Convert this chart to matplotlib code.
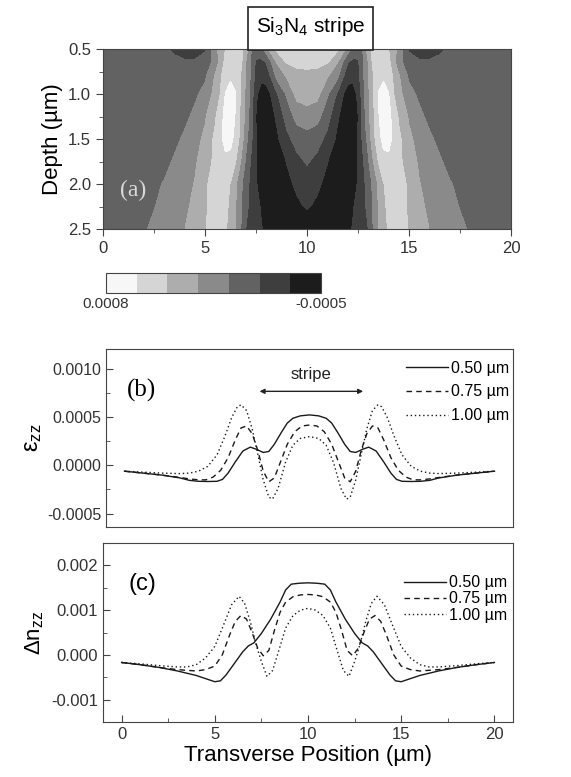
import numpy as np
import matplotlib
matplotlib.use("Agg")
import matplotlib.pyplot as plt
from matplotlib.patches import Rectangle
from matplotlib.ticker import MultipleLocator

plt.rcParams["font.family"] = ["Liberation Sans", "DejaVu Sans"]
plt.rcParams["mathtext.fontset"] = "custom"
plt.rcParams["mathtext.rm"] = "Liberation Sans"
plt.rcParams["mathtext.it"] = "Liberation Sans:italic"

# -------------------------------
# Data: (a) strain map, left half (x = 0..10 um), symmetric about x = 10
# values in units of 1e-4
# -------------------------------
map_x = [0, 1, 2, 3, 3.5, 4, 4.5, 5, 5.5, 5.75, 6, 6.25, 6.5, 6.75,
         7, 7.25, 7.5, 7.75, 8, 8.25, 8.5, 9, 9.5, 10]
map_depth = [0.5, 0.65, 0.8, 1.0, 1.25, 1.5, 1.75, 2.0, 2.25, 2.5]
map_d05 = [-0.6, -0.7, -0.8, -1.1, -1.5, -1.9, -1.9, -1.5, 1.5, 3.4, 4.3, 5.3,
           5.5, 5.0, 3.4, 0.8, -0.3, 0.0, 1.5, 3.4, 4.6, 5.0, 5.2, 5.3]
map_d065 = [-0.6, -0.7, -0.8, -0.9, -1.0, -1.1, -1.1, -0.6, 1.3, 3.0, 4.8, 5.4,
            5.6, 4.8, 2.4, 0.2, -1.6, -1.8, -1.3, 0.5, 2.4, 4.4, 4.9, 5.0]
map_d08 = [-0.6, -0.7, -0.8, -0.9, -0.9, -0.8, -0.6, 0.2, 2.6, 4.0, 5.2, 5.8,
           5.6, 4.2, 2.4, 0.3, -2.0, -2.6, -2.4, -1.0, 1.0, 2.6, 3.4, 3.6]
map_d10 = [-0.6, -0.6, -0.7, -0.7, -0.6, -0.3, 0.2, 1.2, 3.0, 4.3, 6.2, 7.0,
           6.2, 4.0, 2.0, -0.2, -2.8, -4.0, -4.0, -3.0, -1.6, 0.8, 3.0, 3.2]
map_d125 = [-0.5, -0.6, -0.6, -0.6, -0.4, 0.1, 1.0, 2.2, 4.0, 5.6, 6.6, 7.0,
            6.0, 4.0, 1.8, -0.2, -3.2, -4.2, -4.3, -3.8, -2.9, -0.6, 1.2, 1.7]
map_d15 = [-0.5, -0.5, -0.5, -0.3, 0.1, 0.9, 1.8, 2.8, 4.7, 5.8, 6.6, 6.6,
           5.6, 3.6, 1.2, -0.8, -3.0, -4.2, -4.4, -4.2, -3.6, -1.8, -0.6, -0.2]
map_d175 = [-0.5, -0.5, -0.4, 0.0, 0.8, 1.6, 2.2, 3.2, 4.8, 5.4, 5.8, 5.6,
            4.3, 2.4, 0.3, -1.5, -3.0, -4.0, -4.3, -4.3, -4.0, -3.1, -1.8, -1.1]
map_d20 = [-0.5, -0.4, -0.3, 0.7, 1.3, 1.9, 2.5, 4.0, 5.0, 5.1, 4.9, 4.2,
           2.7, 1.0, -0.5, -1.8, -3.0, -3.8, -4.2, -4.3, -4.1, -3.5, -2.9, -2.2]
map_d225 = [-0.5, -0.3, 0.0, 1.0, 1.5, 2.1, 2.8, 4.1, 4.9, 5.0, 4.7, 3.9,
            2.5, 0.9, -0.9, -1.7, -2.6, -3.3, -3.9, -4.2, -4.3, -4.0, -3.4, -3.0]
map_d25 = [-0.4, -0.2, 0.4, 1.4, 1.9, 2.4, 3.1, 4.2, 4.8, 4.8, 4.5, 3.6,
           2.4, 0.6, -1.3, -1.8, -2.4, -3.0, -3.6, -4.0, -4.3, -4.4, -4.3, -4.2]
map_rows = [map_d05, map_d065, map_d08, map_d10, map_d125, map_d15,
            map_d175, map_d20, map_d225, map_d25]

# -------------------------------
# Data: (b) eps_zz (1e-4) and (c) dn_zz (1e-3), left half, symmetric
# -------------------------------
b_x_050 = [0, 1, 2, 3, 3.5, 4, 4.5, 5, 5.3, 5.6, 6.0, 6.4, 6.8, 7.1, 7.5,
           7.8, 8.1, 8.5, 8.8, 9.1, 9.5, 10]
b_y_050 = [-0.6, -0.8, -1.0, -1.3, -1.55, -1.65, -1.67, -1.65, -1.45, -0.8,
           0.4, 1.5, 1.9, 1.7, 1.35, 1.45, 2.2, 3.5, 4.4, 4.9, 5.15, 5.25]
b_x_075 = [0, 1, 2, 3, 3.5, 4, 4.4, 4.8, 5.2, 5.6, 6.0, 6.3, 6.6, 6.9, 7.2,
           7.5, 7.8, 8.1, 8.4, 8.8, 9.2, 9.6, 10]
b_y_075 = [-0.6, -0.8, -1.0, -1.25, -1.4, -1.5, -1.5, -1.2, -0.5, 0.8, 2.7,
           3.9, 4.1, 3.3, 1.6, -0.6, -1.7, -1.3, 0.2, 2.2, 3.5, 4.1, 4.2]
b_x_100 = [0, 1, 2, 3, 3.5, 4, 4.5, 5, 5.4, 5.8, 6.1, 6.3, 6.6, 6.9, 7.2,
           7.5, 7.8, 8.0, 8.3, 8.7, 9.1, 9.5, 10]
b_y_100 = [-0.6, -0.7, -0.8, -0.85, -0.8, -0.6, -0.1, 1.1, 2.9, 5.0, 6.1,
           6.3, 5.7, 3.8, 1.2, -1.5, -3.3, -3.5, -2.4, 0.3, 2.1, 2.8, 3.0]

c_x_050 = [0, 1, 2, 3, 4, 4.5, 5, 5.3, 5.6, 6.0, 6.5, 6.8, 7.1, 7.5, 8.0,
           8.5, 8.8, 9.1, 9.5, 10]
c_y_050 = [-0.17, -0.22, -0.28, -0.36, -0.46, -0.53, -0.6, -0.58, -0.45,
           -0.22, 0.07, 0.2, 0.27, 0.48, 0.8, 1.18, 1.45, 1.58, 1.6, 1.61]
c_x_075 = [0, 1, 2, 3, 4, 4.5, 5, 5.4, 5.8, 6.1, 6.4, 6.7, 7.0, 7.3, 7.6,
           7.9, 8.2, 8.5, 8.8, 9.2, 9.6, 10]
c_y_075 = [-0.17, -0.22, -0.28, -0.33, -0.36, -0.33, -0.25, 0.0, 0.45, 0.75,
           0.88, 0.8, 0.5, 0.15, -0.02, 0.1, 0.55, 0.95, 1.18, 1.3, 1.34, 1.35]
c_x_100 = [0, 1, 2, 3, 3.5, 4, 4.5, 5, 5.5, 5.9, 6.3, 6.6, 6.9, 7.2, 7.5,
           7.8, 8.1, 8.4, 8.8, 9.2, 9.6, 10]
c_y_100 = [-0.17, -0.2, -0.24, -0.27, -0.27, -0.22, -0.07, 0.19, 0.7, 1.12,
           1.31, 1.15, 0.75, 0.25, -0.15, -0.48, -0.35, 0.05, 0.6, 0.88, 1.0,
           1.04]

labels = ["0.50 µm", "0.75 µm", "1.00 µm"]


def mirror(x, y):
    # profiles are symmetric about the stripe centre (x = 10)
    xf = list(x) + [20 - v for v in reversed(x[:-1])]
    yf = list(y) + list(reversed(y[:-1]))
    return np.array(xf), np.array(yf)


# -------------------------------
# Figure
# -------------------------------
W, H = 571, 777
fig = plt.figure(figsize=(W / 100, H / 100), dpi=100)


def box(l, t, r, b):
    return [l / W, 1 - b / H, (r - l) / W, (b - t) / H]


tick_col = "#333333"
frame_col = "#444444"

# ---- (a) contour map
ax_a = fig.add_axes(box(103, 49, 511, 229))
xf = np.array(map_x + [20 - v for v in reversed(map_x[:-1])])
zf = np.array([list(r) + list(reversed(r[:-1])) for r in map_rows]) * 1e-4
XX, DD = np.meshgrid(xf, map_depth)
levels = np.linspace(-0.0005, 0.0008, 8)
grays = ["#1c1c1c", "#3e3e3e", "#626262", "#8a8a8a", "#adadad", "#d5d5d5", "#f7f7f7"]
cf = ax_a.contourf(XX, DD, zf, levels=levels, colors=grays)
ax_a.set_xlim(0, 20)
ax_a.set_ylim(2.5, 0.5)
ax_a.xaxis.set_major_locator(MultipleLocator(5))
ax_a.xaxis.set_minor_locator(MultipleLocator(2.5))
ax_a.yaxis.set_major_locator(MultipleLocator(0.5))
ax_a.yaxis.set_minor_locator(MultipleLocator(0.25))
ax_a.yaxis.set_major_formatter(matplotlib.ticker.FormatStrFormatter("%.1f"))
ax_a.tick_params(direction="out", which="major", length=5, labelsize=12,
                 labelcolor=tick_col, color=frame_col)
ax_a.tick_params(direction="out", which="minor", length=3, color=frame_col)
ax_a.set_ylabel("Depth (µm)", fontsize=16, labelpad=4)
ax_a.text(1.5, 2.07, "(a)", fontsize=17, color="#d8d8d8",
          family="Liberation Serif", ha="center", va="center")
for s in ax_a.spines.values():
    s.set_color(frame_col)

# title box
fig.patches.append(Rectangle((248 / W, 1 - 50 / H), 125 / W, 43 / H,
                             transform=fig.transFigure, facecolor="white",
                             edgecolor="#222222", linewidth=1.2, zorder=5))
fig.text(310.5 / W, 1 - 27 / H, r"Si$_3$N$_4$ stripe", fontsize=15,
         ha="center", va="center", zorder=6)

# colorbar
cax = fig.add_axes(box(106, 273, 321, 293))
cb = fig.colorbar(cf, cax=cax, orientation="horizontal")
cax.invert_xaxis()
cb.set_ticks([0.0008, -0.0005], labels=["0.0008", "-0.0005"])
cax.tick_params(length=0, labelsize=11, labelcolor=tick_col, pad=3)
cb.outline.set_edgecolor(frame_col)

# ---- (b) strain profiles
ax_b = fig.add_axes(box(106, 349, 513, 527))
styles = [dict(ls="-"), dict(ls=(0, (4, 3))), dict(ls=(0, (1, 2)))]
for (x, y), st, lab in zip([(b_x_050, b_y_050), (b_x_075, b_y_075), (b_x_100, b_y_100)],
                           styles, labels):
    xx, yy = mirror(x, y)
    ax_b.plot(xx, yy * 1e-4, color="#1a1a1a", lw=1.0, label=lab, **st)
ax_b.set_xlim(-1, 21)
ax_b.set_ylim(-0.00064, 0.00121)
ax_b.set_xticks([])
ax_b.yaxis.set_major_locator(MultipleLocator(0.0005))
ax_b.yaxis.set_minor_locator(MultipleLocator(0.00025))
ax_b.yaxis.set_major_formatter(matplotlib.ticker.FormatStrFormatter("%.4f"))
ax_b.tick_params(direction="in", which="major", length=5, labelsize=11.5,
                 labelcolor=tick_col, color=frame_col)
ax_b.tick_params(direction="in", which="minor", length=3, color=frame_col)
ax_b.set_ylabel("ε$_{\\mathrm{zz}}$", fontsize=17, labelpad=2)
ax_b.text(0.9, 0.00078, "(b)", fontsize=18, family="Liberation Serif",
          ha="center", va="center")
ax_b.annotate("", xy=(7.3, 0.00077), xytext=(12.9, 0.00077),
              arrowprops=dict(arrowstyle="<|-|>", color="#222222", lw=1.0,
                              mutation_scale=7, shrinkA=0, shrinkB=0))
ax_b.text(10.1, 0.00094, "stripe", fontsize=12, ha="center", va="center",
          color="#222222")
ax_b.legend(loc="upper right", bbox_to_anchor=(0.99, 0.935), frameon=False,
            fontsize=11.5, handlelength=2.6, handletextpad=0.2,
            labelspacing=0.55, borderaxespad=0, borderpad=0)
for s in ax_b.spines.values():
    s.set_color(frame_col)

# ---- (c) index change profiles
ax_c = fig.add_axes(box(103, 543, 513, 722))
for (x, y), st, lab in zip([(c_x_050, c_y_050), (c_x_075, c_y_075), (c_x_100, c_y_100)],
                           styles, labels):
    xx, yy = mirror(x, y)
    ax_c.plot(xx, yy * 1e-3, color="#1a1a1a", lw=1.0, label=lab, **st)
ax_c.set_xlim(-1, 21)
ax_c.set_ylim(-0.0015, 0.0025)
ax_c.xaxis.set_major_locator(MultipleLocator(5))
ax_c.xaxis.set_minor_locator(MultipleLocator(2.5))
ax_c.yaxis.set_major_locator(MultipleLocator(0.001))
ax_c.yaxis.set_minor_locator(MultipleLocator(0.0005))
ax_c.yaxis.set_major_formatter(matplotlib.ticker.FormatStrFormatter("%.3f"))
ax_c.tick_params(direction="in", which="major", length=5, labelsize=12,
                 labelcolor=tick_col, color=frame_col)
ax_c.tick_params(direction="in", which="minor", length=3, color=frame_col)
ax_c.set_ylabel("Δn$_{\\mathrm{zz}}$", fontsize=16, labelpad=4)
ax_c.set_xlabel("Transverse Position (µm)", fontsize=16, labelpad=2)
ax_c.text(1.1, 0.00159, "(c)", fontsize=17, ha="center", va="center")
ax_c.legend(loc="upper right", bbox_to_anchor=(0.986, 0.82), frameon=False,
            fontsize=11.5, handlelength=2.6, handletextpad=0.2,
            labelspacing=0.08, borderaxespad=0, borderpad=0)
for s in ax_c.spines.values():
    s.set_color(frame_col)

fig.savefig("out.png", dpi=100)
